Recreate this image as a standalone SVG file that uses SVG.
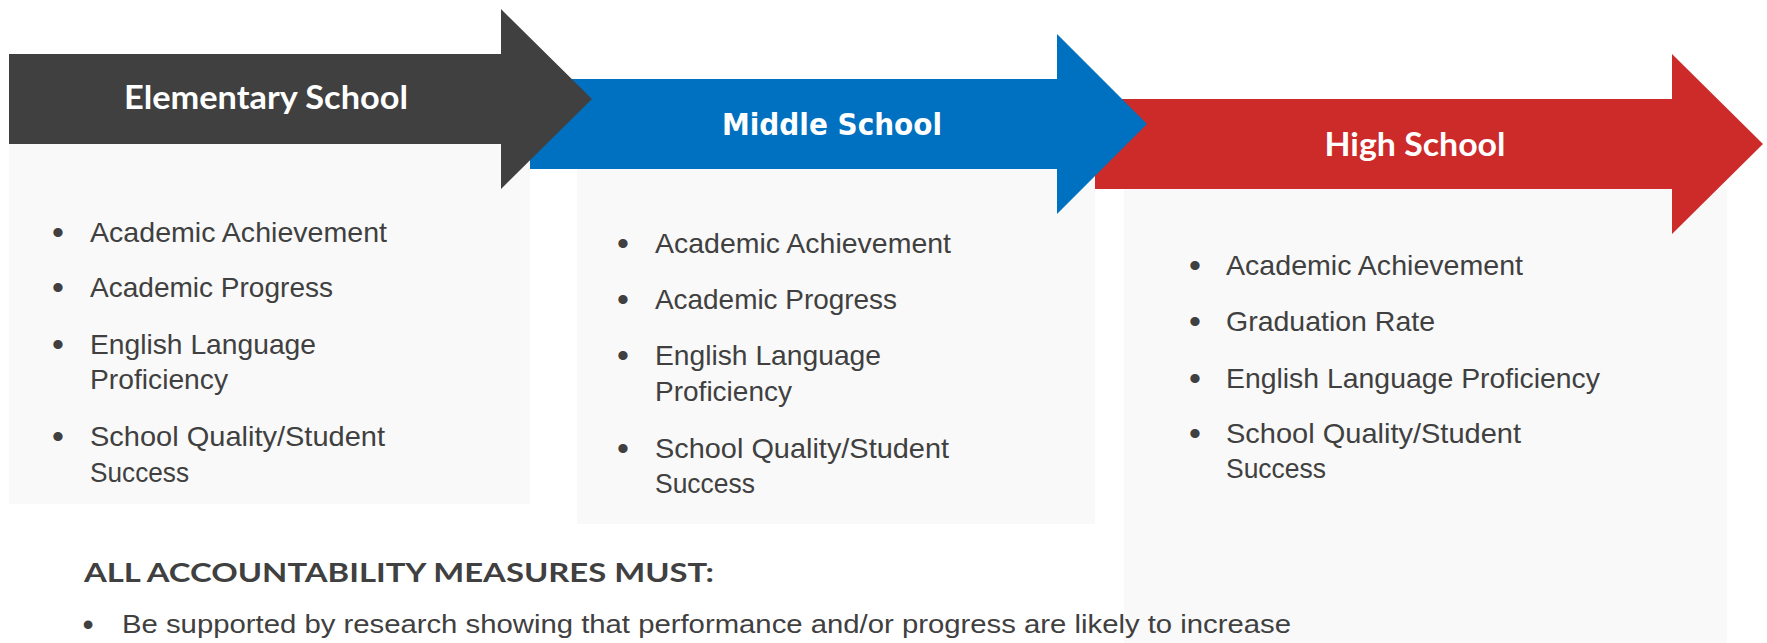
<svg xmlns="http://www.w3.org/2000/svg" width="1767" height="643" viewBox="0 0 1767 643">
<style>
.box { fill: #f9f9f9; }
.title { font-family: Lato, "Liberation Sans", sans-serif; font-weight: bold; font-size: 33px; fill: #ffffff; text-anchor: middle; }
.item { font-family: "Liberation Sans", Arial, sans-serif; font-size: 28px; fill: #404040; }
.bul { font-family: "Liberation Sans", Arial, sans-serif; font-size: 34px; fill: #404040; text-anchor: middle; }
.head { font-family: Lato, "Liberation Sans", sans-serif; font-weight: bold; font-size: 27px; fill: #404040; }
.foot { font-family: "Liberation Sans", Arial, sans-serif; font-size: 26px; fill: #404040; }
</style>
<rect width="1767" height="643" fill="#ffffff"/>

<g id="high-school">
  <rect class="box" x="1124" y="189" width="603" height="454"/>
  <polygon fill="#cd2a2a" points="1080,99 1672,99 1672,54 1763,144 1672,234 1672,189 1080,189"/>
  <text class="title" x="1415" y="156" textLength="181" lengthAdjust="spacingAndGlyphs">High School</text>
  <text class="bul" x="1195" y="277">•</text>
  <text class="item" x="1226" y="275" textLength="297" lengthAdjust="spacingAndGlyphs">Academic Achievement</text>
  <text class="bul" x="1195" y="333">•</text>
  <text class="item" x="1226" y="331" textLength="209" lengthAdjust="spacingAndGlyphs">Graduation Rate</text>
  <text class="bul" x="1195" y="390">•</text>
  <text class="item" x="1226" y="388" textLength="374" lengthAdjust="spacingAndGlyphs">English Language Proficiency</text>
  <text class="bul" x="1195" y="445">•</text>
  <text class="item" x="1226" y="443" textLength="295" lengthAdjust="spacingAndGlyphs">School Quality/Student</text>
  <text class="item" x="1226" y="478" textLength="100" lengthAdjust="spacingAndGlyphs">Success</text>
</g>

<g id="middle-school">
  <rect class="box" x="577" y="169" width="518" height="355"/>
  <polygon fill="#0070c0" points="520,79 1057,79 1057,34 1147,124 1057,214 1057,169 520,169"/>
  <text class="title" x="832" y="135" style="font-family:'DejaVu Sans','Liberation Sans',sans-serif;font-size:31px" textLength="220" lengthAdjust="spacingAndGlyphs">Middle School</text>
  <text class="bul" x="623" y="255">•</text>
  <text class="item" x="655" y="253" textLength="296" lengthAdjust="spacingAndGlyphs">Academic Achievement</text>
  <text class="bul" x="623" y="311">•</text>
  <text class="item" x="655" y="309" textLength="242" lengthAdjust="spacingAndGlyphs">Academic Progress</text>
  <text class="bul" x="623" y="367">•</text>
  <text class="item" x="655" y="365" textLength="226" lengthAdjust="spacingAndGlyphs">English Language</text>
  <text class="item" x="655" y="401" textLength="137" lengthAdjust="spacingAndGlyphs">Proficiency</text>
  <text class="bul" x="623" y="460">•</text>
  <text class="item" x="655" y="458" textLength="294" lengthAdjust="spacingAndGlyphs">School Quality/Student</text>
  <text class="item" x="655" y="493" textLength="100" lengthAdjust="spacingAndGlyphs">Success</text>
</g>

<g id="elementary-school">
  <rect class="box" x="9" y="144" width="521" height="360"/>
  <polygon fill="#404040" points="9,54 501,54 501,9 592,99 501,189 501,144 9,144"/>
  <text class="title" x="266" y="109" textLength="284" lengthAdjust="spacingAndGlyphs">Elementary School</text>
  <text class="bul" x="58" y="244">•</text>
  <text class="item" x="90" y="242" textLength="297" lengthAdjust="spacingAndGlyphs">Academic Achievement</text>
  <text class="bul" x="58" y="299">•</text>
  <text class="item" x="90" y="297" textLength="243" lengthAdjust="spacingAndGlyphs">Academic Progress</text>
  <text class="bul" x="58" y="356">•</text>
  <text class="item" x="90" y="354" textLength="226" lengthAdjust="spacingAndGlyphs">English Language</text>
  <text class="item" x="90" y="389" textLength="138" lengthAdjust="spacingAndGlyphs">Proficiency</text>
  <text class="bul" x="58" y="448">•</text>
  <text class="item" x="90" y="446" textLength="295" lengthAdjust="spacingAndGlyphs">School Quality/Student</text>
  <text class="item" x="90" y="482" textLength="99" lengthAdjust="spacingAndGlyphs">Success</text>
</g>

<g id="measures">
  <text class="head" x="84" y="582" textLength="630" lengthAdjust="spacingAndGlyphs">ALL ACCOUNTABILITY MEASURES MUST:</text>
  <text class="bul" x="88" y="635" style="font-size:32px">•</text>
  <text class="foot" x="122" y="633" textLength="1169" lengthAdjust="spacingAndGlyphs">Be supported by research showing that performance and/or progress are likely to increase</text>
</g>

<g id="connectors"/>
</svg>
